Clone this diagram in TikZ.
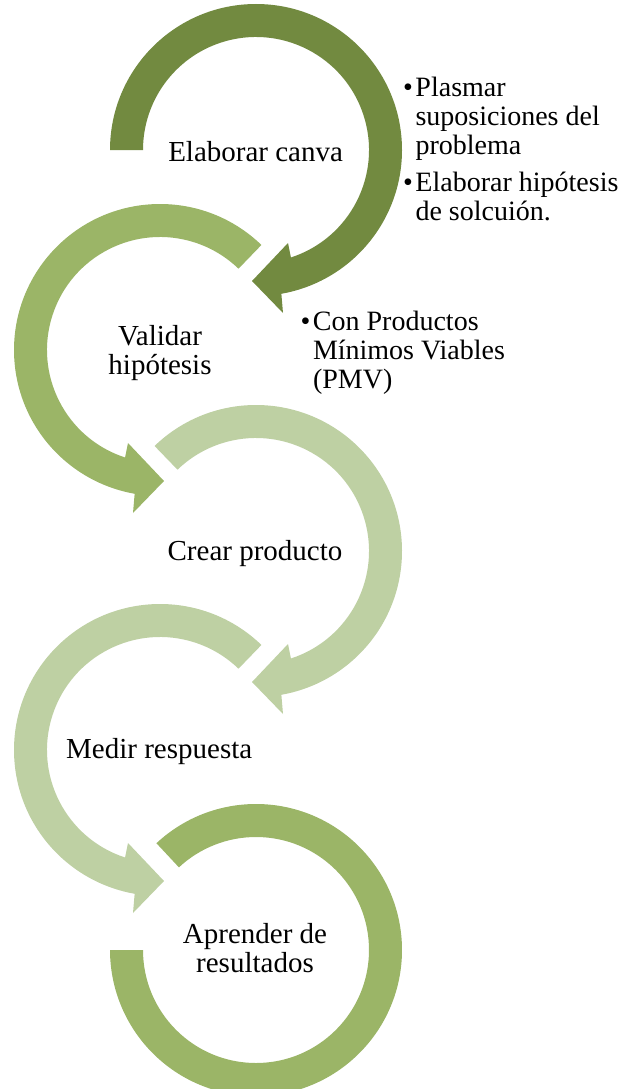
\documentclass[tikz,border=0pt]{standalone}
\usepackage{fontspec}
\setmainfont{Liberation Serif}
\usetikzlibrary{calc}

\definecolor{olivedark}{HTML}{728A40}
\definecolor{olivemid}{HTML}{9BB567}
\definecolor{olivelight}{HTML}{BED0A3}

% one ring of the cycle: tail cut at angle #1, runs clockwise, ends in a head at the bottom
\newcommand\cyclering[2]{%
  \fill[#2] (#1:113) -- (#1:146) arc[start angle=#1, end angle=-80, radius=146]
    -- (27,-163) -- (-4,-131) -- (32,-93) -- (-72:113)
    arc[start angle=-72, end angle=#1, radius=113] -- cycle;}

\tikzset{
  stage/.style={font=\fontsize{29}{28.2}\selectfont, align=center, inner sep=0pt, anchor=base},
  notes/.style={font=\fontsize{28}{29}\selectfont, inner sep=0pt, anchor=base west},
}
\newcommand\bul{\makebox[12.5pt][l]{\textbullet}}

\begin{document}
\begin{tikzpicture}[x=1pt,y=1pt]
\useasboundingbox (0,0) rectangle (629,-1089);
\clip (0,0) rectangle (629,-1089);

% rings, top to bottom
\begin{scope}[shift={(256,-150)}]
  \cyclering{180}{olivedark}
\end{scope}
\begin{scope}[shift={(160,-350)}, xscale=-1]
  \cyclering{134}{olivemid}
\end{scope}
\begin{scope}[shift={(256,-551)}]
  \cyclering{134}{olivelight}
\end{scope}
\begin{scope}[shift={(160,-750)}, xscale=-1]
  \cyclering{134}{olivelight}
\end{scope}
\begin{scope}[shift={(256,-950)}]
  \fill[olivemid] (133:113) -- (133:146) arc[start angle=133, end angle=-180, radius=146]
    -- (180:113) arc[start angle=-180, end angle=133, radius=113] -- cycle;
\end{scope}

% stage labels (two-line labels sit on the baseline of their last line)
\node[stage] (canva) at (255.6,-161.7) {Elaborar canva};
\node[stage] (validar) at (160,-374) {Validar\\hipótesis};
\node[stage] (crear) at (255,-560) {Crear producto};
\node[stage] (medir) at (159.2,-758.3) {Medir respuesta};
\node[stage] (aprender) at (255,-972) {Aprender de\\resultados};

% side notes, hung from the baseline of their first line
\node[notes] (notas1) at (402.8,-96.5) {%
  \begin{tabular}[t]{@{}l@{}l@{}}
  \bul & Plasmar\\
       & suposiciones del\\
       & problema\\[8pt]
  \bul & Elaborar hipótesis\\
       & de solcuión.
  \end{tabular}};
\node[notes] (notas2) at (300.3,-330.5) {%
  \begin{tabular}[t]{@{}l@{}l@{}}
  \bul & Con Productos\\
       & Mínimos Viables\\
       & (PMV)
  \end{tabular}};
\end{tikzpicture}
\end{document}
